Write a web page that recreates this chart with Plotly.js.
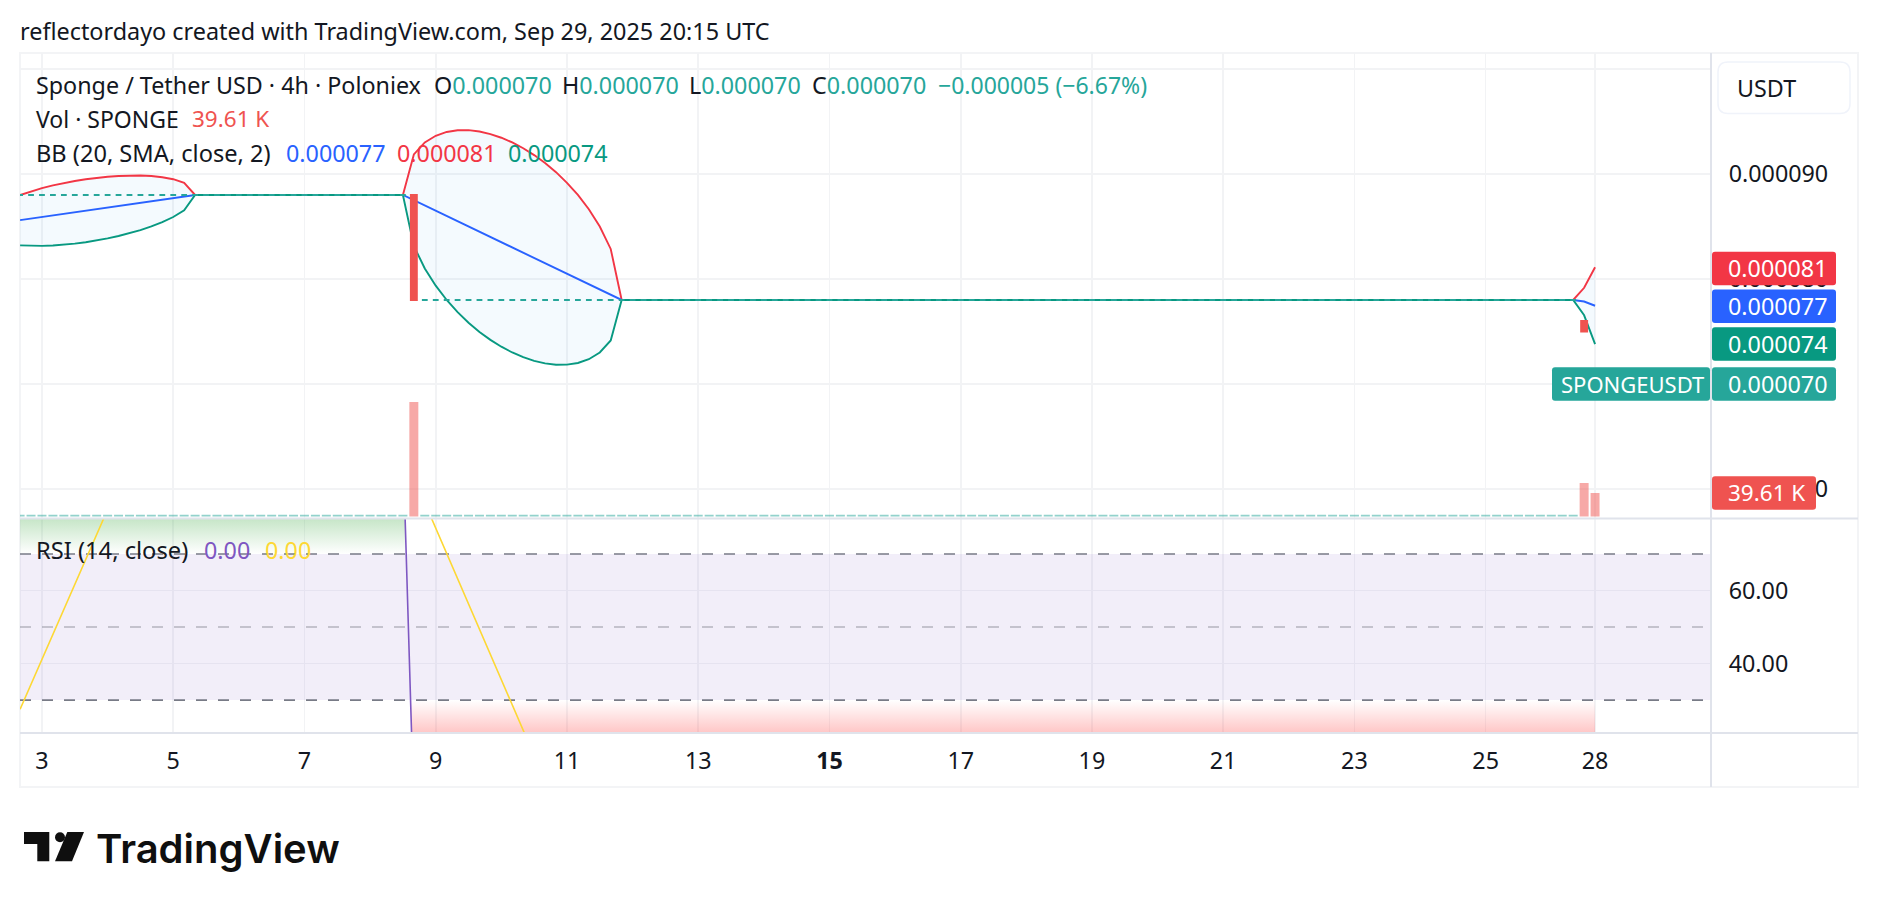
<!DOCTYPE html>
<html>
<head>
<meta charset="utf-8">
<script src="https://cdn.plot.ly/plotly-3.0.1.min.js"></script>
<style>html,body{margin:0;padding:0;background:#fff}#c{width:1878px;height:908px}</style>
</head>
<body>
<div id="c"></div>
<script>
// ---- chart values (prices in 1e-6 USDT, volume in thousands) ----
const barIndex = [-2,-1,0,1,2,3,4,5,6,7,8,9,10,11,12,13,14,15,16,17,18,19,20,21,22,23,24,25,26,27,28,29,30,31,32,33,34,35,36,37,38,39,40,41,42,43,44,45,46,47,48,49,50,51,52,53,54,55,56,57,58,59,60,61,62,63,64,65,66,67,68,69,70,71,72,73,74,75,76,77,78,79,80,81,82,83,84,85,86,87,88,89,90,91,92,93,94,95,96,97,98,99,100,101,102,103,104,105,106,107,108,109,110,111,112,113,114,115,116,117,118,119,120,121,122,123,124,125,126,127,128,129,130,131,132,133,134,135,136,137,138,139,140,141,142];
const priceOpen = [88,88,88,88,88,88,88,88,88,88,88,88,88,88,88,88,88,88,88,88,88,88,88,88,88,88,88,88,88,88,88,88,88,88,88,88,88,78,78,78,78,78,78,78,78,78,78,78,78,78,78,78,78,78,78,78,78,78,78,78,78,78,78,78,78,78,78,78,78,78,78,78,78,78,78,78,78,78,78,78,78,78,78,78,78,78,78,78,78,78,78,78,78,78,78,78,78,78,78,78,78,78,78,78,78,78,78,78,78,78,78,78,78,78,78,78,78,78,78,78,78,78,78,78,78,78,78,78,78,78,78,78,78,78,78,78,78,78,78,78,78,78,78,76,70];
const priceClose = [88,88,88,88,88,88,88,88,88,88,88,88,88,88,88,88,88,88,88,88,88,88,88,88,88,88,88,88,88,88,88,88,88,88,88,88,78,78,78,78,78,78,78,78,78,78,78,78,78,78,78,78,78,78,78,78,78,78,78,78,78,78,78,78,78,78,78,78,78,78,78,78,78,78,78,78,78,78,78,78,78,78,78,78,78,78,78,78,78,78,78,78,78,78,78,78,78,78,78,78,78,78,78,78,78,78,78,78,78,78,78,78,78,78,78,78,78,78,78,78,78,78,78,78,78,78,78,78,78,78,78,78,78,78,78,78,78,78,78,78,78,78,78,75,70];
const volume = [
  2.8,2.8,2.8,2.8,2.8,2.8,2.8,2.8,2.8,2.8,
  2.8,2.8,2.8,2.8,2.8,2.8,2.8,2.8,2.8,2.8,
  2.8,2.8,2.8,2.8,2.8,2.8,2.8,2.8,2.8,2.8,
  2.8,2.8,2.8,2.8,2.8,2.8,193,
  2.8,2.8,2.8,2.8,2.8,2.8,2.8,2.8,2.8,2.8,
  2.8,2.8,2.8,2.8,2.8,2.8,2.8,2.8,2.8,2.8,
  2.8,2.8,2.8,2.8,2.8,2.8,2.8,2.8,2.8,2.8,
  2.8,2.8,2.8,2.8,2.8,2.8,2.8,2.8,2.8,2.8,
  2.8,2.8,2.8,2.8,2.8,2.8,2.8,2.8,2.8,2.8,
  2.8,2.8,2.8,2.8,2.8,2.8,2.8,2.8,2.8,2.8,
  2.8,2.8,2.8,2.8,2.8,2.8,2.8,2.8,2.8,2.8,
  2.8,2.8,2.8,2.8,2.8,2.8,2.8,2.8,2.8,2.8,
  2.8,2.8,2.8,2.8,2.8,2.8,2.8,2.8,2.8,2.8,
  2.8,2.8,2.8,2.8,2.8,2.8,2.8,2.8,2.8,2.8,
  2.8,2.8,2.8,2.8,2.8,2.8,
  56.5,39.61];
const volumeColor = barIndex.map((_, k) => volume[k] > 3 ? 'rgba(239,83,80,0.5)' : 'rgba(38,166,154,0.5)');

const bbX = [-2,-1,0,1,2,3,4,5,6,7,8,9,10,11,12,13,14,33,34,35,36,37,38,39,40,41,42,43,44,45,46,47,48,49,50,51,52,53,140,141,142];
const bbUpper = [88,88.35,88.65,88.91,89.14,89.33,89.5,89.63,89.74,89.81,89.85,89.85,89.8,89.69,89.5,89.16,88,88,91.86,93,93.64,94,94.16,94.17,94.04,93.8,93.45,93,92.45,91.8,91.04,90.17,89.16,88,86.64,85,82.86,78,78,79.16,81.11];
const bbBasis = [85.6,85.75,85.9,86.05,86.2,86.35,86.5,86.65,86.8,86.95,87.1,87.25,87.4,87.55,87.7,87.85,88,88,87.5,87,86.5,86,85.5,85,84.5,84,83.5,83,82.5,82,81.5,81,80.5,80,79.5,79,78.5,78,78,77.85,77.45];
const bbLower = [83.2,83.15,83.15,83.19,83.26,83.37,83.5,83.67,83.86,84.09,84.35,84.65,85,85.41,85.9,86.54,88,88,83.14,81,79.36,78,76.84,75.83,74.96,74.2,73.55,73,72.55,72.2,71.96,71.83,71.84,72,72.36,73,74.14,78,78,76.54,73.79];

const rsiX = [-2,33,34,142];
const rsiValue = [100,100,0,0];
const rsiMaX = [-2,-1,0,1,2,3,4,5,6,7,8,9,33,34,35,36,37,38,39,40,41,42,43,44,45,46,47,48,142];
const rsiMa = [27.5,34.3,41.1,48,54.8,61.6,68.5,75.3,82.1,89,95.8,100,100,90.9,84,77.1,70.2,63.3,56.4,49.5,42.6,35.7,28.8,21.9,15,8,1,0,0];
const overboughtX = [-2,33,33.3,-2];
const overboughtY = [100,100,70,70];
const oversoldX = [33.7,34,142,142];
const oversoldY = [30,0,0,30];

const timeTickVals = [0,12,24,36,48,60,72,84,96,108,120,132,142];
const timeTickText = ['3','5','7','9','11','13','<b>15</b>','17','19','21','23','25','28'];
const priceTickVals = [100,90,80,70,60];
const priceTickText = ['','0.000090','0.000080','0.000070','0.000060'];
const rsiTickVals = [60,40];
const rsiTickText = ['60.00','40.00'];
const rsiLevels = [70,50,30];

// ---- layout frame ----
const W = 1878, H = 908, L = 20, R = 1711, T = 53, B = 733, SEP = 518.5;
const px = x => (x - L) / (R - L);
const py = y => (B - y) / (B - T);
const splitFrac = py(SEP);
const X_RANGE = [-2.01, 152.6];
const PRICE_RANGE = [57.19, 101.52];
const VOL_RANGE = [-3.4, 781.5];
const RSI_RANGE = [21, 79.7];

const FONT = '"Noto Sans", sans-serif';
const SZ = 23.3;
const INK = '#131722';
const TEAL = '#26a69a';
const GRID = '#f2f3f5';

const flat = barIndex.map((_, k) => k).filter(k => priceOpen[k] === priceClose[k]);
const moved = barIndex.map((_, k) => k).filter(k => priceOpen[k] !== priceClose[k]);
const candle = (ids, col) => ({
  type:'candlestick',x:ids.map(k=>barIndex[k]),open:ids.map(k=>priceOpen[k]),close:ids.map(k=>priceClose[k]),
  high:ids.map(k=>Math.max(priceOpen[k],priceClose[k])),low:ids.map(k=>Math.min(priceOpen[k],priceClose[k])),
  xaxis:'x',yaxis:'y4',whiskerwidth:0,
  increasing:{line:{color:col,width:2.1},fillcolor:col},
  decreasing:{line:{color:col,width:2.1},fillcolor:col}
});

// ---- traces ----
const traces = [
  {type:'scatter',mode:'lines',x:X_RANGE.concat(X_RANGE[1],X_RANGE[0]),y:[rsiLevels[2],rsiLevels[2],rsiLevels[0],rsiLevels[0]],xaxis:'x',yaxis:'y2',fill:'toself',fillcolor:'rgba(126,87,194,0.1)',line:{width:0}},
  {type:'scatter',mode:'lines',x:bbX,y:bbUpper,xaxis:'x',yaxis:'y',line:{width:0}},
  {type:'scatter',mode:'lines',x:bbX,y:bbLower,xaxis:'x',yaxis:'y',line:{width:0},fill:'tonexty',fillcolor:'rgba(33,150,243,0.05)'},
  {type:'scatter',mode:'lines',x:bbX,y:bbUpper,xaxis:'x',yaxis:'y',line:{color:'#f23645',width:1.9}},
  {type:'scatter',mode:'lines',x:bbX,y:bbBasis,xaxis:'x',yaxis:'y',line:{color:'#2962ff',width:1.9}},
  {type:'scatter',mode:'lines',x:bbX,y:bbLower,xaxis:'x',yaxis:'y',line:{color:'#089981',width:1.9}},
  {type:'bar',x:barIndex,y:volume,xaxis:'x',yaxis:'y3',marker:{color:volumeColor,line:{width:0}}},
  candle(flat,TEAL),
  candle(moved,'#ef5350'),
  {type:'scatter',mode:'lines',x:overboughtX,y:overboughtY,xaxis:'x',yaxis:'y2',fill:'toself',line:{width:0},
   fillgradient:{type:'vertical',start:70,stop:79.7,colorscale:[[0,'rgba(76,175,80,0)'],[1,'rgba(76,175,80,0.32)']]}},
  {type:'scatter',mode:'lines',x:oversoldX,y:oversoldY,xaxis:'x',yaxis:'y2',fill:'toself',line:{width:0},
   fillgradient:{type:'vertical',start:30,stop:21,colorscale:[[0,'rgba(255,82,82,0)'],[1,'rgba(255,82,82,0.33)']]}},
  {type:'scatter',mode:'lines',x:X_RANGE,y:[rsiLevels[0],rsiLevels[0]],xaxis:'x',yaxis:'y2',line:{color:'#787b86',width:1.6,dash:'11px,11px'}},
  {type:'scatter',mode:'lines',x:X_RANGE,y:[rsiLevels[1],rsiLevels[1]],xaxis:'x',yaxis:'y2',line:{color:'rgba(120,123,134,0.5)',width:1.6,dash:'11px,11px'}},
  {type:'scatter',mode:'lines',x:X_RANGE,y:[rsiLevels[2],rsiLevels[2]],xaxis:'x',yaxis:'y2',line:{color:'#787b86',width:1.6,dash:'11px,11px'}},
  {type:'scatter',mode:'lines',x:rsiMaX,y:rsiMa,xaxis:'x',yaxis:'y2',line:{color:'#fdd835',width:1.6}},
  {type:'scatter',mode:'lines',x:rsiX,y:rsiValue,xaxis:'x',yaxis:'y2',line:{color:'#7e57c2',width:1.6}}
];

// ---- annotations ----
const ann = (x, y, text, color, size, extra) => Object.assign({
  xref:'paper',yref:'paper',x:px(x),y:py(y),text:text,showarrow:false,xanchor:'left',yanchor:'middle',align:'left',borderpad:0,
  font:{family:FONT,size:size||SZ,color:color||INK}
}, extra||{});
const c = (col, t) => `<span style="color:${col}">${t}</span>`;
const annotations = [
  ann(19,31,'reflectordayo created with TradingView.com, Sep 29, 2025 20:15 UTC',INK,23.4),
  ann(35,85,'Sponge / Tether USD · 4h · Poloniex'),
  ann(433,85,'O'+c(TEAL,'0.000070')),
  ann(561,85,'H'+c(TEAL,'0.000070')),
  ann(688,85,'L'+c(TEAL,'0.000070')),
  ann(811,85,'C'+c(TEAL,'0.000070')),
  ann(937,85,'−0.000005 (−6.67%)',TEAL,23),
  ann(35,119,'Vol · SPONGE',INK,23),
  ann(191,119,'39.61 K','#ef5350',22.5),
  ann(35,152.5,'BB (20, SMA, close, 2)',INK,23.6),
  ann(285,152.5,'0.000077','#2962ff'),
  ann(396,152.5,'0.000081','#f23645'),
  ann(507,152.5,'0.000074','#089981'),
  ann(35,549.5,'RSI (14, close)',INK,23.7),
  ann(203,549.5,'0.00','#7e57c2'),
  ann(264,549.5,'0.00','#fdd835'),
  ann(1736,88,'USDT'),
  ann(95,848,'TradingView','#0f0f0f',40,{font:{family:'Inter, sans-serif',size:40,color:'#0f0f0f',weight:600}})
];

// price / volume tags, tied to their values on the axes
const roundRect = (w, h, r) => `M ${r} ${-h/2} H ${w-r} Q ${w} ${-h/2} ${w} ${-h/2+r} V ${h/2-r} Q ${w} ${h/2} ${w-r} ${h/2} H ${r} Q 0 ${h/2} 0 ${h/2-r} V ${-h/2+r} Q 0 ${-h/2} ${r} ${-h/2} Z`;
const tagShapes = [];
const addTag = (x0, w, value, yref, color) => {
  tagShapes.push({type:'path',layer:'above',xref:'paper',yref:yref,xsizemode:'pixel',ysizemode:'pixel',xanchor:px(x0),yanchor:value,path:roundRect(w,33.5,3),fillcolor:color,line:{width:0}});
};
const addTagText = (x, value, yref, text, size) => annotations.push({xref:'paper',yref:yref,x:px(x),y:value,text:text,showarrow:false,xanchor:'left',yanchor:'middle',borderpad:0,font:{family:FONT,size:size||SZ,color:'#fff'}});

const TAG_VALUES = {upper:81, basis:77.4, lower:73.8, close:70, vol:39.61};
addTag(1712,124,TAG_VALUES.upper,'y','#f23645'); addTagText(1727,TAG_VALUES.upper,'y','0.000081');
addTag(1712,124,TAG_VALUES.basis,'y','#2962ff'); addTagText(1727,TAG_VALUES.basis,'y','0.000077');
addTag(1712,124,TAG_VALUES.lower,'y','#089981'); addTagText(1727,TAG_VALUES.lower,'y','0.000074');
addTag(1552,158,TAG_VALUES.close,'y',TEAL);      addTagText(1560,TAG_VALUES.close,'y','SPONGEUSDT',22);
addTag(1712,124,TAG_VALUES.close,'y',TEAL);      addTagText(1727,TAG_VALUES.close,'y','0.000070');
addTag(1712,104,TAG_VALUES.vol,'y3','#ef5350');  addTagText(1727,TAG_VALUES.vol,'y3','39.61 K',22.5);

// ---- frame, USDT box and logo (page furniture, paper coordinates) ----
const P = (x, y) => `${px(x)} ${py(y)}`;
const paperLine = (x0,y0,x1,y1,col,w) => ({type:'line',layer:'above',xref:'paper',yref:'paper',x0:px(x0),y0:py(y0),x1:px(x1),y1:py(y1),line:{color:col,width:w}});
const frameRect = {type:'rect',layer:'below',xref:'paper',yref:'paper',x0:px(20),y0:py(53),x1:px(1858),y1:py(787),line:{color:'#f3f4f6',width:2},fillcolor:'rgba(0,0,0,0)'};
const box = (x0,y0,x1,y1,r) => `M ${P(x0+r,y0)} L ${P(x1-r,y0)} Q ${P(x1,y0)} ${P(x1,y0+r)} L ${P(x1,y1-r)} Q ${P(x1,y1)} ${P(x1-r,y1)} L ${P(x0+r,y1)} Q ${P(x0,y1)} ${P(x0,y1-r)} L ${P(x0,y0+r)} Q ${P(x0,y0)} ${P(x0+r,y0)} Z`;
const shapes = [
  frameRect,
  paperLine(20,SEP,1858,SEP,'#e0e3eb',2),
  paperLine(20,733,1858,733,'#e0e3eb',2),
  paperLine(1711,53,1711,787,'#e0e3eb',2),
  {type:'path',layer:'above',xref:'paper',yref:'paper',path:box(1718,62,1850,113.5,10),fillcolor:'#ffffff',line:{color:'#f0f3fa',width:1.5}},
  ...tagShapes,
  {type:'path',layer:'above',xref:'paper',yref:'paper',path:`M ${P(24,832)} L ${P(49.3,832)} L ${P(49.3,861.3)} L ${P(37.3,861.3)} L ${P(37.3,844)} L ${P(24,844)} Z`,fillcolor:'#0f0f0f',line:{width:0}},
  {type:'circle',layer:'above',xref:'paper',yref:'paper',x0:px(55),x1:px(65),y0:py(832.3),y1:py(842.3),fillcolor:'#0f0f0f',line:{width:0}},
  {type:'path',layer:'above',xref:'paper',yref:'paper',path:`M ${P(67.3,832)} L ${P(84,832)} L ${P(72,861.3)} L ${P(55,861.3)} Z`,fillcolor:'#0f0f0f',line:{width:0}}
];

const axisFont = {family:FONT,size:SZ,color:INK};
const layout = {
  width:W,height:H,
  margin:{l:L,r:W-R,t:T,b:H-B,pad:0,autoexpand:false},
  paper_bgcolor:'#ffffff',plot_bgcolor:'rgba(0,0,0,0)',
  showlegend:false,
  barmode:'overlay',bargap:0.18,
  boxmode:'overlay',boxgap:0.47,boxgroupgap:0,
  xaxis:{range:X_RANGE,anchor:'y2',domain:[0,1],tickmode:'array',tickvals:timeTickVals,ticktext:timeTickText,
         showgrid:true,gridcolor:GRID,gridwidth:1.6,zeroline:false,showline:false,
         ticks:'outside',ticklen:7,tickcolor:'rgba(0,0,0,0)',tickfont:axisFont,rangeslider:{visible:false}},
  yaxis:{domain:[splitFrac,1],range:PRICE_RANGE,anchor:'x',side:'right',tickmode:'array',tickvals:priceTickVals,ticktext:priceTickText,
         showgrid:true,gridcolor:GRID,gridwidth:1.6,zeroline:false,showline:false,
         ticks:'outside',ticklen:12,tickcolor:'rgba(0,0,0,0)',tickfont:axisFont},
  yaxis2:{domain:[0,splitFrac],range:RSI_RANGE,anchor:'x',side:'right',tickmode:'array',tickvals:rsiTickVals,ticktext:rsiTickText,
         showgrid:true,gridcolor:GRID,gridwidth:1.6,zeroline:false,showline:false,
         ticks:'outside',ticklen:12,tickcolor:'rgba(0,0,0,0)',tickfont:axisFont},
  yaxis3:{overlaying:'y',range:VOL_RANGE,anchor:'x',side:'left',showgrid:false,zeroline:false,showline:false,showticklabels:false,ticks:''},
  yaxis4:{overlaying:'y',range:PRICE_RANGE,anchor:'x',side:'right',showgrid:false,zeroline:false,showline:false,showticklabels:false,ticks:''},
  annotations:annotations,
  shapes:shapes,
  hovermode:false
};
Plotly.newPlot('c',traces,layout,{displayModeBar:false,staticPlot:true});
</script>
</body>
</html>
